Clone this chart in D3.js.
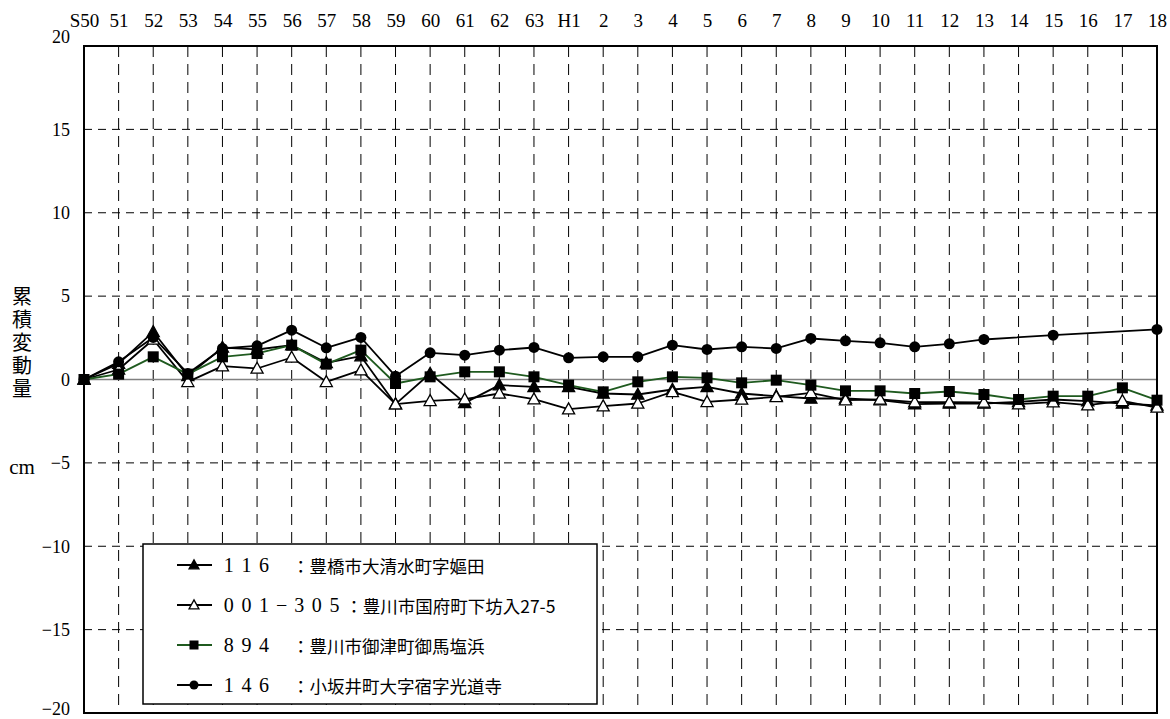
<!DOCTYPE html>
<html>
<head>
<meta charset="utf-8">
<script src="https://cdn.jsdelivr.net/npm/d3@7/dist/d3.min.js"></script>
<style>
  html, body { margin: 0; padding: 0; background: #fff; }
  svg { display: block; }
  .serif { font-family: "Liberation Serif", "DejaVu Serif", "Times New Roman", serif; }
  .jp { font-family: "Noto Sans CJK JP", "Noto Sans CJK SC", sans-serif; }
</style>
</head>
<body>
<svg id="chart" width="1170" height="719"></svg>
<script>
// Survey years (Showa 50–63, Heisei 1–18)
const years = ["S50","51","52","53","54","55","56","57","58","59","60","61","62","63",
  "H1","2","3","4","5","6","7","8","9","10","11","12","13","14","15","16","17","18"];

// Cumulative change (cm) for each benchmark; null = not surveyed
const bm116 = [0, 0.95, 2.86, 0.22, 1.92, 1.8, 2.06, 1.0, 1.4, -1.48, 0.36, -1.4, -0.34, -0.44,
  -0.44, -0.84, -0.9, -0.6, -0.44, -0.84, -1.0, -1.14, -1.14, -1.24, -1.48, -1.44, -1.44, -1.34, -1.2, -1.3, -1.44, -1.56];
const bm001305 = [0, 0.6, 2.4, -0.14, 0.8, 0.66, 1.32, -0.14, 0.56, -1.48, -1.28, -1.18, -0.84, -1.18,
  -1.78, -1.6, -1.44, -0.74, -1.34, -1.2, -1.04, -0.8, -1.24, -1.2, -1.36, -1.36, -1.38, -1.48, -1.36, -1.54, -1.28, -1.68];
const bm894 = [0, 0.32, 1.36, 0.32, 1.36, 1.56, 2.06, 0.92, 1.76, -0.24, 0.16, 0.46, 0.46, 0.16,
  -0.34, -0.74, -0.14, 0.16, 0.1, -0.2, -0.04, -0.34, -0.68, -0.68, -0.84, -0.72, -0.9, -1.2, -1.0, -1.0, -0.5, -1.24];
const bm146 = [0, 1.06, 2.52, 0.36, 1.86, 2.02, 2.96, 1.9, 2.52, 0.2, 1.6, 1.46, 1.76, 1.92,
  1.3, 1.36, 1.36, 2.06, 1.8, 1.96, 1.86, 2.46, 2.32, 2.2, 1.96, 2.14, 2.4, null, 2.66, null, null, 3.0];

const yTicks = [20, 15, 10, 5, 0, -5, -10, -15, -20];

const seriesList = [
  { code: "116", label: "：豊橋市大清水町字嫗田", values: bm116, marker: "triFilled", color: "#000" },
  { code: "001-305", label: "：豊川市国府町下坊入27-5", values: bm001305, marker: "triOpen", color: "#000" },
  { code: "894", label: "：豊川市御津町御馬塩浜", values: bm894, marker: "square", color: "#1f5a1f" },
  { code: "146", label: "：小坂井町大字宿字光道寺", values: bm146, marker: "circle", color: "#000" }
];

const svg = d3.select("#chart");
const plot = { left: 84, right: 1157, top: 46, bottom: 713 };

const x = d3.scalePoint().domain(years).range([plot.left, plot.right]);
const y = d3.scaleLinear().domain([-20, 20]).range([plot.bottom, plot.top]);

// Dashed grid
const grid = svg.append("g");
grid.selectAll("line.v").data(years.slice(1, -1)).join("line")
  .attr("x1", d => x(d)).attr("x2", d => x(d))
  .attr("y1", plot.top).attr("y2", plot.bottom)
  .attr("stroke", "#000").attr("stroke-width", 1).attr("stroke-dasharray", "11,7");
grid.selectAll("line.h").data(yTicks.filter(v => v !== 0 && Math.abs(v) !== 20)).join("line")
  .attr("x1", plot.left).attr("x2", plot.right)
  .attr("y1", d => y(d)).attr("y2", d => y(d))
  .attr("stroke", "#000").attr("stroke-width", 1).attr("stroke-dasharray", "8,6");

// Zero line
svg.append("line")
  .attr("x1", plot.left).attr("x2", plot.right)
  .attr("y1", y(0)).attr("y2", y(0))
  .attr("stroke", "#808080").attr("stroke-width", 1.5);

// Plot frame
svg.append("rect")
  .attr("x", plot.left).attr("y", plot.top)
  .attr("width", plot.right - plot.left).attr("height", plot.bottom - plot.top)
  .attr("fill", "none").attr("stroke", "#000").attr("stroke-width", 2);

// Top axis: survey years
const topAxis = svg.append("g")
  .attr("transform", `translate(0,${plot.top - 19})`)
  .call(d3.axisTop(x).tickSize(0).tickPadding(0));
topAxis.attr("font-family", null).attr("font-size", null);
topAxis.select(".domain").remove();
topAxis.selectAll("text").attr("class", "serif").style("font-size", "19px").attr("fill", "#000");

// Left axis: values
const leftAxis = svg.append("g")
  .attr("transform", `translate(${plot.left - 14},0)`)
  .call(d3.axisLeft(y).tickValues(yTicks).tickSize(0).tickPadding(0)
    .tickFormat(d => d < 0 ? "−" + Math.abs(d) : String(d)));
leftAxis.attr("font-family", null).attr("font-size", null);
leftAxis.select(".domain").remove();
leftAxis.selectAll("text").attr("class", "serif").style("font-size", "18px").attr("fill", "#000");
leftAxis.selectAll(".tick").filter(d => d === -20).select("text").attr("dy", "0.1em");
leftAxis.selectAll(".tick").filter(d => d === 20).select("text").attr("dy", "-0.2em");

// Vertical axis title
svg.append("text")
  .attr("class", "jp")
  .attr("x", 22).attr("y", 286)
  .style("writing-mode", "vertical-rl")
  .style("font-size", "20px")
  .style("letter-spacing", "3px")
  .attr("fill", "#000")
  .text("累積変動量");
svg.append("text")
  .attr("class", "serif")
  .attr("x", 22).attr("y", 467)
  .attr("text-anchor", "middle").attr("dominant-baseline", "central")
  .style("font-size", "21px").attr("fill", "#000")
  .text("cm");

// Marker drawing
function drawMarker(sel, type, size) {
  const s = size;
  if (type === "circle") {
    sel.append("circle").attr("r", s * 0.5).attr("fill", "#000");
  } else if (type === "square") {
    sel.append("rect").attr("x", -s * 0.5).attr("y", -s * 0.5)
      .attr("width", s).attr("height", s).attr("fill", "#000");
  } else {
    const h = s * 0.95;
    const pts = [[0, -h * 0.6], [s * 0.55, h * 0.45], [-s * 0.55, h * 0.45]];
    sel.append("path").attr("d", d3.line()(pts) + "Z")
      .attr("fill", type === "triFilled" ? "#000" : "#fff")
      .attr("stroke", "#000").attr("stroke-width", 1.3);
  }
}

const line = d3.line().x(d => x(d.year)).y(d => y(d.v));

seriesList.forEach(s => {
  const pts = years.map((yr, i) => ({ year: yr, v: s.values[i] })).filter(d => d.v !== null);
  svg.append("path").datum(pts)
    .attr("d", line).attr("fill", "none")
    .attr("stroke", s.color).attr("stroke-width", 1.8).attr("stroke-linejoin", "round");
});
seriesList.forEach(s => {
  const pts = years.map((yr, i) => ({ year: yr, v: s.values[i] })).filter(d => d.v !== null);
  svg.append("g").selectAll("g").data(pts).join("g")
    .attr("transform", d => `translate(${x(d.year)},${y(d.v)})`)
    .each(function () { drawMarker(d3.select(this), s.marker, 11); });
});

// Legend
const lg = svg.append("g");
lg.append("rect")
  .attr("x", 143).attr("y", 544).attr("width", 454).attr("height", 160)
  .attr("fill", "#fff").attr("stroke", "#000").attr("stroke-width", 1.5);
const rowY = i => 565 + i * 40;
const charStep = 17.6;
seriesList.forEach((s, i) => {
  const g = lg.append("g").attr("transform", `translate(0,${rowY(i)})`);
  g.append("line").attr("x1", 177).attr("x2", 212).attr("y1", 0).attr("y2", 0)
    .attr("stroke", s.color).attr("stroke-width", 1.8);
  const m = g.append("g").attr("transform", "translate(194,0)");
  drawMarker(m, s.marker, 9);
  // code characters spaced on a full-width grid
  const chars = s.code.split("");
  g.append("g").selectAll("text").data(chars).join("text")
    .attr("class", "serif")
    .attr("x", (d, k) => 220 + k * charStep + charStep / 2)
    .attr("y", 0).attr("dominant-baseline", "central").attr("text-anchor", "middle")
    .style("font-size", "20px").attr("fill", "#000")
    .text(d => d === "-" ? "−" : d);
  const lx = Math.max(292, 220 + chars.length * charStep + 2);
  g.append("text").attr("class", "jp").attr("x", lx).attr("y", 0).attr("dominant-baseline", "central")
    .style("font-size", "17.5px").attr("fill", "#000")
    .text(s.label);
});
</script>
</body>
</html>
